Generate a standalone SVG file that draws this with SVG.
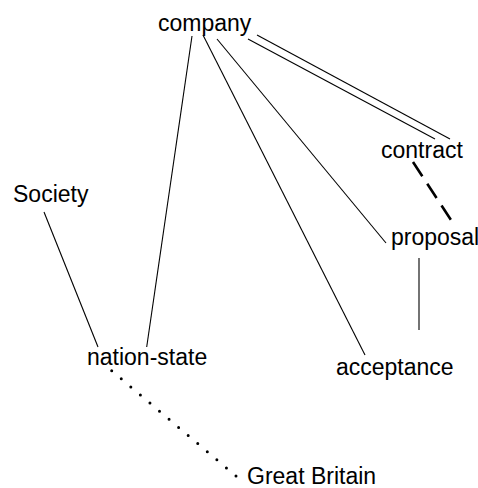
<svg xmlns="http://www.w3.org/2000/svg" width="478" height="488" viewBox="0 0 478 488">
  <style>
    .label { font-family: "Liberation Sans", Arial, sans-serif; font-size: 23px; fill: #000; }
    .edge { stroke: #000; stroke-width: 1.1; fill: none; }
    .dashed { stroke: #000; stroke-width: 2.6; stroke-dasharray: 17 9; fill: none; }
    .dotted { stroke: #000; stroke-width: 3; stroke-linecap: round; stroke-dasharray: 0 12.53; fill: none; }
  </style>
  <rect width="478" height="488" fill="#fff"/>
  <g id="connectors">
    <line class="edge" x1="192" y1="36" x2="146.7" y2="347"/>
    <line class="edge" x1="203" y1="35" x2="365" y2="355"/>
    <line class="edge" x1="217" y1="39" x2="386" y2="243"/>
    <line class="edge" x1="248" y1="39" x2="435" y2="139"/>
    <line class="edge" x1="257" y1="35" x2="450" y2="139"/>
    <line class="dashed" x1="413" y1="162" x2="453" y2="223"/>
    <line class="edge" x1="419" y1="258" x2="419" y2="330"/>
    <line class="edge" x1="44" y1="212" x2="98" y2="347"/>
    <line class="dotted" x1="111.7" y1="370.7" x2="236" y2="476"/>
  </g>
  <g id="company"><text class="label" x="158" y="31">company</text></g>
  <g id="contract"><text class="label" x="381" y="158">contract</text></g>
  <g id="Society"><text class="label" x="13" y="202">Society</text></g>
  <g id="proposal"><text class="label" x="391" y="245">proposal</text></g>
  <g id="nation-state"><text class="label" x="87" y="365">nation-state</text></g>
  <g id="acceptance"><text class="label" x="336" y="375">acceptance</text></g>
  <g id="Great-Britain"><text class="label" x="247" y="484">Great Britain</text></g>
</svg>
